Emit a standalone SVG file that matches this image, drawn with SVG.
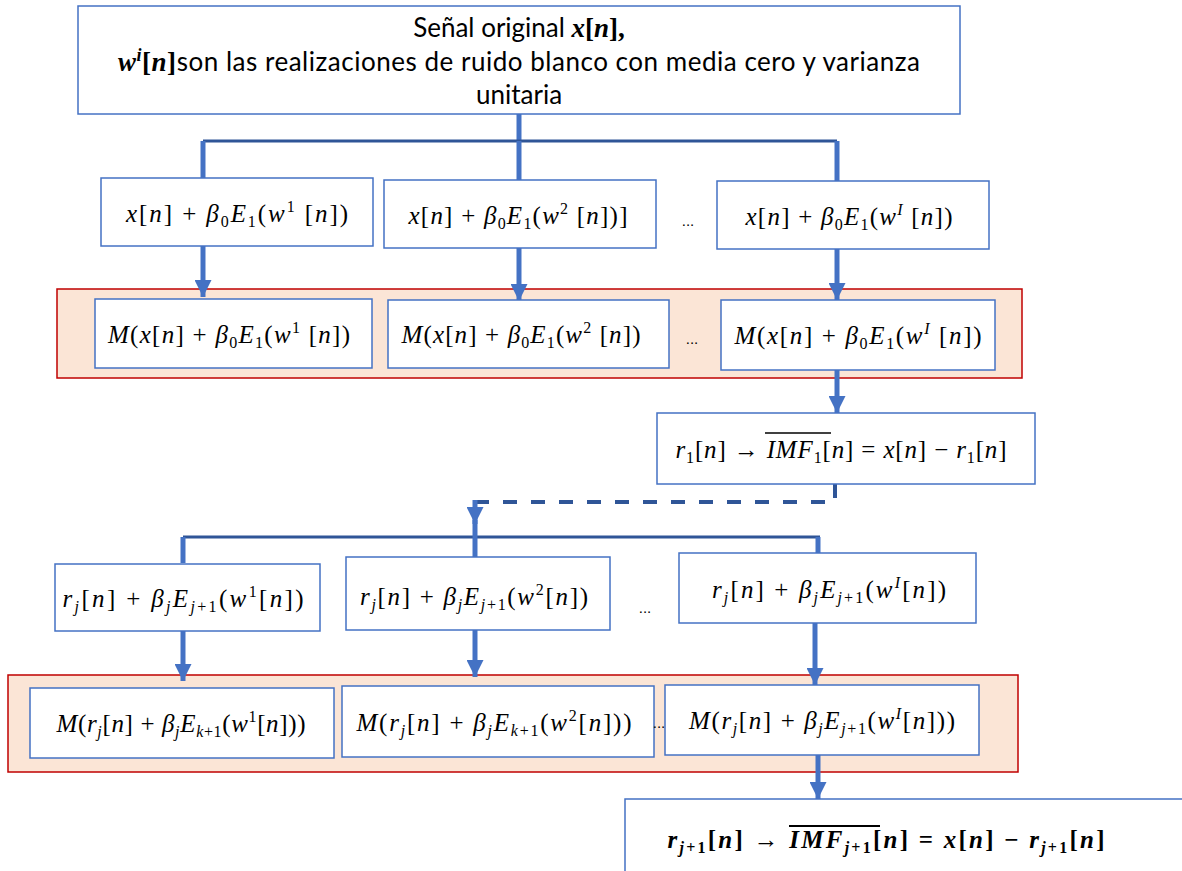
<svg xmlns="http://www.w3.org/2000/svg" width="1182" height="871" viewBox="0 0 1182 871">
<style>
.box{fill:#fff;stroke:#4472C4;stroke-width:1.5}
.grp{fill:#FBE5D6;stroke:#C00000;stroke-width:1.5}
.t{font-family:Lato,"Liberation Sans",sans-serif;font-size:26px;fill:#000}
.m{font-family:"Liberation Serif",serif;font-size:25px;fill:#000}
.mt{font-family:"Liberation Serif",serif;font-size:27px}
.i{font-style:italic}
.b{font-weight:bold}
.s{font-size:16px}
.ol{stroke:#000;stroke-width:1.3}
.olb{stroke:#000;stroke-width:2}
.dots{font-family:"Liberation Sans",sans-serif;font-size:15px;fill:#000}
.thick{stroke:#4472C4;stroke-width:5;fill:none}
.bus{stroke:#2F5597;stroke-width:3;fill:none}
.dash{stroke:#2F5597;stroke-width:4;fill:none;stroke-dasharray:14 14}
</style>
<defs>
<marker id="ah" viewBox="0 0 10 10" refX="10" refY="5" markerWidth="3.4" markerHeight="3.4" orient="auto" markerUnits="strokeWidth">
<path d="M0,0 L10,5 L0,10 Z" fill="#4472C4"/>
</marker>
</defs>

<g id="groups">
<rect class="grp" x="57" y="289" width="965" height="89"/>
<rect class="grp" x="8" y="675" width="1010" height="97"/>
</g>

<g id="connectors">
<path class="thick" d="M519,114 V141"/>
<path class="bus" d="M203,141 H837"/>
<path class="thick" d="M203,141 V178"/>
<path class="thick" d="M519,141 V180"/>
<path class="thick" d="M837,141 V181"/>
<path class="thick" d="M203,246 V297" marker-end="url(#ah)"/>
<path class="thick" d="M519,248 V301" marker-end="url(#ah)"/>
<path class="thick" d="M837,249 V300" marker-end="url(#ah)"/>
<path class="thick" d="M837,370 V413" marker-end="url(#ah)"/>
<path class="dash" d="M835,484 V502 H476"/>
<path class="thick" d="M475,500 V524" marker-end="url(#ah)"/>
<path class="bus" d="M183,537 H820"/>
<path class="thick" d="M183,537 V563"/>
<path class="thick" d="M475,520 V557"/>
<path class="thick" d="M818,537 V553"/>
<path class="thick" d="M183,631 V681" marker-end="url(#ah)"/>
<path class="thick" d="M475,630 V677" marker-end="url(#ah)"/>
<path class="thick" d="M815,623 V685" marker-end="url(#ah)"/>
<path class="thick" d="M818,755 V799" marker-end="url(#ah)"/>
</g>

<g id="n-top">
<rect class="box" x="78" y="6" width="882" height="108"/>
<text class="t" x="519" y="37" text-anchor="middle">Señal original <tspan class="mt b i">x</tspan><tspan class="mt b">[</tspan><tspan class="mt b i">n</tspan><tspan class="mt b">],</tspan></text>
<text class="t" x="519" y="71" text-anchor="middle" textLength="802" lengthAdjust="spacing"><tspan class="mt b i">w</tspan><tspan class="mt b i" style="font-size:18px" dy="-10">i</tspan><tspan class="mt b" dy="10">[</tspan><tspan class="mt b i">n</tspan><tspan class="mt b">]</tspan>son las realizaciones de ruido blanco con media cero y varianza</text>
<text class="t" x="519" y="104" text-anchor="middle">unitaria</text>
</g>

<g id="n-a1">
<rect class="box" x="101" y="178" width="272" height="68"/>
<text class="m" x="237" y="222" text-anchor="middle" textLength="222" lengthAdjust="spacing"><tspan class="i">x</tspan>[<tspan class="i">n</tspan>] + <tspan class="i">β</tspan><tspan class="s" dy="5">0</tspan><tspan class="i" dy="-5">E</tspan><tspan class="s" dy="5">1</tspan><tspan dy="-5">(</tspan><tspan class="i">w</tspan><tspan class="s" dy="-10">1</tspan><tspan dy="10"> [</tspan><tspan class="i">n</tspan>])</text>
</g>
<g id="n-a2">
<rect class="box" x="384" y="180" width="272" height="68"/>
<text class="m" x="518" y="224" text-anchor="middle" textLength="219" lengthAdjust="spacing"><tspan class="i">x</tspan>[<tspan class="i">n</tspan>] + <tspan class="i">β</tspan><tspan class="s" dy="5">0</tspan><tspan class="i" dy="-5">E</tspan><tspan class="s" dy="5">1</tspan><tspan dy="-5">(</tspan><tspan class="i">w</tspan><tspan class="s" dy="-10">2</tspan><tspan dy="10"> [</tspan><tspan class="i">n</tspan>])]</text>
</g>
<text class="dots" x="688" y="226" text-anchor="middle">...</text>
<g id="n-a3">
<rect class="box" x="717" y="181" width="272" height="68"/>
<text class="m" x="849" y="225" text-anchor="middle" textLength="207" lengthAdjust="spacing"><tspan class="i">x</tspan>[<tspan class="i">n</tspan>] + <tspan class="i">β</tspan><tspan class="s" dy="5">0</tspan><tspan class="i" dy="-5">E</tspan><tspan class="s" dy="5">1</tspan><tspan dy="-5">(</tspan><tspan class="i">w</tspan><tspan class="s i" dy="-10">I</tspan><tspan dy="10"> [</tspan><tspan class="i">n</tspan>])</text>
</g>

<g id="n-b1">
<rect class="box" x="95" y="299" width="277" height="69"/>
<text class="m" x="229" y="343" text-anchor="middle" textLength="242" lengthAdjust="spacing"><tspan class="i">M</tspan>(<tspan class="i">x</tspan>[<tspan class="i">n</tspan>] + <tspan class="i">β</tspan><tspan class="s" dy="5">0</tspan><tspan class="i" dy="-5">E</tspan><tspan class="s" dy="5">1</tspan><tspan dy="-5">(</tspan><tspan class="i">w</tspan><tspan class="s" dy="-10">1</tspan><tspan dy="10"> [</tspan><tspan class="i">n</tspan>])</text>
</g>
<g id="n-b2">
<rect class="box" x="388" y="300" width="281" height="68"/>
<text class="m" x="521" y="343" text-anchor="middle" textLength="239" lengthAdjust="spacing"><tspan class="i">M</tspan>(<tspan class="i">x</tspan>[<tspan class="i">n</tspan>] + <tspan class="i">β</tspan><tspan class="s" dy="5">0</tspan><tspan class="i" dy="-5">E</tspan><tspan class="s" dy="5">1</tspan><tspan dy="-5">(</tspan><tspan class="i">w</tspan><tspan class="s" dy="-10">2</tspan><tspan dy="10"> [</tspan><tspan class="i">n</tspan>])</text>
</g>
<text class="dots" x="692" y="344" text-anchor="middle">...</text>
<g id="n-b3">
<rect class="box" x="721" y="300" width="274" height="70"/>
<text class="m" x="858" y="344" text-anchor="middle" textLength="247" lengthAdjust="spacing"><tspan class="i">M</tspan>(<tspan class="i">x</tspan>[<tspan class="i">n</tspan>] + <tspan class="i">β</tspan><tspan class="s" dy="5">0</tspan><tspan class="i" dy="-5">E</tspan><tspan class="s" dy="5">1</tspan><tspan dy="-5">(</tspan><tspan class="i">w</tspan><tspan class="s i" dy="-10">I</tspan><tspan dy="10"> [</tspan><tspan class="i">n</tspan>])</text>
</g>

<g id="n-r1">
<rect class="box" x="657" y="413" width="378" height="71"/>
<text class="m" x="841" y="458" text-anchor="middle" textLength="331" lengthAdjust="spacing"><tspan class="i">r</tspan><tspan class="s" dy="5">1</tspan><tspan dy="-5">[</tspan><tspan class="i">n</tspan>] → <tspan class="i">IMF</tspan><tspan class="s" dy="5">1</tspan><tspan dy="-5">[</tspan><tspan class="i">n</tspan>] = <tspan class="i">x</tspan>[<tspan class="i">n</tspan>] − <tspan class="i">r</tspan><tspan class="s" dy="5">1</tspan><tspan dy="-5">[</tspan><tspan class="i">n</tspan>]</text>
<line class="ol" x1="765" y1="433" x2="831" y2="433"/>
</g>

<g id="n-c1">
<rect class="box" x="55" y="564" width="265" height="67"/>
<text class="m" x="183" y="607" text-anchor="middle" textLength="241" lengthAdjust="spacing"><tspan class="i">r</tspan><tspan class="s i" dy="5">j</tspan><tspan dy="-5">[</tspan><tspan class="i">n</tspan>] + <tspan class="i">β</tspan><tspan class="s i" dy="5">j</tspan><tspan class="i" dy="-5">E</tspan><tspan class="s" dy="5"><tspan class="i">j</tspan>+1</tspan><tspan dy="-5">(</tspan><tspan class="i">w</tspan><tspan class="s" dy="-10">1</tspan><tspan dy="10">[</tspan><tspan class="i">n</tspan>])</text>
</g>
<g id="n-c2">
<rect class="box" x="346" y="557" width="264" height="73"/>
<text class="m" x="474" y="605" text-anchor="middle" textLength="228" lengthAdjust="spacing"><tspan class="i">r</tspan><tspan class="s i" dy="5">j</tspan><tspan dy="-5">[</tspan><tspan class="i">n</tspan>] + <tspan class="i">β</tspan><tspan class="s i" dy="5">j</tspan><tspan class="i" dy="-5">E</tspan><tspan class="s" dy="5"><tspan class="i">j</tspan>+1</tspan><tspan dy="-5">(</tspan><tspan class="i">w</tspan><tspan class="s" dy="-10">2</tspan><tspan dy="10">[</tspan><tspan class="i">n</tspan>])</text>
</g>
<text class="dots" x="645" y="613" text-anchor="middle">...</text>
<g id="n-c3">
<rect class="box" x="679" y="553" width="297" height="70"/>
<text class="m" x="829" y="598" text-anchor="middle" textLength="234" lengthAdjust="spacing"><tspan class="i">r</tspan><tspan class="s i" dy="5">j</tspan><tspan dy="-5">[</tspan><tspan class="i">n</tspan>] + <tspan class="i">β</tspan><tspan class="s i" dy="5">j</tspan><tspan class="i" dy="-5">E</tspan><tspan class="s" dy="5"><tspan class="i">j</tspan>+1</tspan><tspan dy="-5">(</tspan><tspan class="i">w</tspan><tspan class="s i" dy="-10">I</tspan><tspan dy="10">[</tspan><tspan class="i">n</tspan>])</text>
</g>

<g id="n-d1">
<rect class="box" x="30" y="688" width="304" height="70"/>
<text class="m" x="181" y="732" text-anchor="middle" textLength="249" lengthAdjust="spacing"><tspan class="i">M</tspan>(<tspan class="i">r</tspan><tspan class="s i" dy="5">j</tspan><tspan dy="-5">[</tspan><tspan class="i">n</tspan>] + <tspan class="i">β</tspan><tspan class="s i" dy="5">j</tspan><tspan class="i" dy="-5">E</tspan><tspan class="s" dy="5"><tspan class="i">k</tspan>+1</tspan><tspan dy="-5">(</tspan><tspan class="i">w</tspan><tspan class="s" dy="-10">1</tspan><tspan dy="10">[</tspan><tspan class="i">n</tspan>]))</text>
</g>
<g id="n-d2">
<rect class="box" x="342" y="686" width="312" height="71"/>
<text class="m" x="494" y="731" text-anchor="middle" textLength="275" lengthAdjust="spacing"><tspan class="i">M</tspan>(<tspan class="i">r</tspan><tspan class="s i" dy="5">j</tspan><tspan dy="-5">[</tspan><tspan class="i">n</tspan>] + <tspan class="i">β</tspan><tspan class="s i" dy="5">j</tspan><tspan class="i" dy="-5">E</tspan><tspan class="s" dy="5"><tspan class="i">k</tspan>+1</tspan><tspan dy="-5">(</tspan><tspan class="i">w</tspan><tspan class="s" dy="-10">2</tspan><tspan dy="10">[</tspan><tspan class="i">n</tspan>]))</text>
</g>
<text class="dots" x="659" y="728" text-anchor="middle">...</text>
<g id="n-d3">
<rect class="box" x="665" y="685" width="314" height="70"/>
<text class="m" x="822" y="729" text-anchor="middle" textLength="266" lengthAdjust="spacing"><tspan class="i">M</tspan>(<tspan class="i">r</tspan><tspan class="s i" dy="5">j</tspan><tspan dy="-5">[</tspan><tspan class="i">n</tspan>] + <tspan class="i">β</tspan><tspan class="s i" dy="5">j</tspan><tspan class="i" dy="-5">E</tspan><tspan class="s" dy="5"><tspan class="i">j</tspan>+1</tspan><tspan dy="-5">(</tspan><tspan class="i">w</tspan><tspan class="s i" dy="-10">I</tspan><tspan dy="10">[</tspan><tspan class="i">n</tspan>]))</text>
</g>

<g id="n-final">
<rect class="box" x="625" y="799" width="570" height="80"/>
<text class="m b" x="886" y="848" text-anchor="middle" textLength="437" lengthAdjust="spacing"><tspan class="i">r</tspan><tspan class="s" dy="5"><tspan class="i">j</tspan>+1</tspan><tspan dy="-5">[</tspan><tspan class="i">n</tspan>] → <tspan class="i">IMF</tspan><tspan class="s" dy="5"><tspan class="i">j</tspan>+1</tspan><tspan dy="-5">[</tspan><tspan class="i">n</tspan>] = <tspan class="i">x</tspan>[<tspan class="i">n</tspan>] − <tspan class="i">r</tspan><tspan class="s" dy="5"><tspan class="i">j</tspan>+1</tspan><tspan dy="-5">[</tspan><tspan class="i">n</tspan>]</text>
<line class="olb" x1="789" y1="826" x2="880" y2="826"/>
</g>
</svg>
